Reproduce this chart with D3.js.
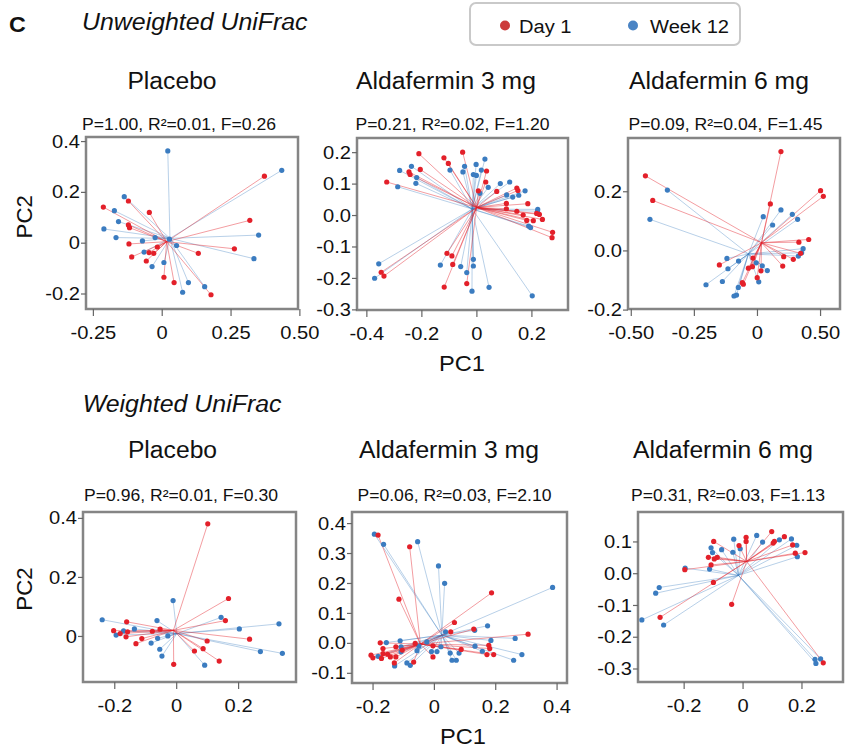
<!DOCTYPE html>
<html>
<head>
<meta charset="utf-8">
<script src="https://cdn.jsdelivr.net/npm/d3@7"></script>
<style>
  body { margin: 0; background: #fff; }
  text { font-family: "Liberation Sans", Arial, sans-serif; fill: #111; }
</style>
</head>
<body>
<div id="chart"></div>
<script>
// PCoA (PC1, PC2) per sample
var groups = ["Placebo", "Aldafermin 3 mg", "Aldafermin 6 mg"];
var metrics = ["Unweighted UniFrac", "Weighted UniFrac"];
var timepoints = ["Day 1", "Week 12"];

// PERMANOVA stats, row = metric, col = group
var statP = [[1.00, 0.21, 0.09], [0.96, 0.06, 0.31]];
var statR2 = [[0.01, 0.02, 0.04], [0.01, 0.03, 0.03]];
var statF = [[0.26, 1.20, 1.45], [0.30, 2.10, 1.13]];

var uwPlaceboDay1 = [[0.373,0.262],[0.320,0.088],[0.264,-0.024],[0.133,-0.042],[0.179,-0.205],[0.045,-0.157],[0.008,-0.136],[-0.212,0.140],[-0.121,0.164],[-0.045,0.119],[-0.121,0.070],[-0.117,0.059],[-0.119,-0.005],[-0.109,-0.056],[-0.046,-0.039],[-0.029,-0.042],[-0.016,-0.017],[-0.056,-0.072]];
var uwPlaceboWeek12 = [[0.436,0.285],[0.022,0.361],[-0.136,0.181],[-0.172,0.126],[-0.157,0.083],[-0.210,0.054],[-0.166,0.020],[-0.070,0.007],[-0.024,0.020],[0.028,0.014],[0.054,-0.011],[0.352,0.030],[0.335,-0.063],[-0.064,-0.037],[-0.035,-0.094],[0.008,-0.078],[0.097,-0.157],[0.076,-0.195],[0.156,-0.173]];
var uwPlaceboCentroid = [[0.018,0.004],[0.030,0.017]]; // [Day 1, Week 12]

var uw3mgDay1 = [[-0.209,0.195],[-0.118,0.182],[-0.102,0.164],[-0.050,0.200],[-0.204,0.145],[-0.245,0.137],[-0.241,0.129],[-0.326,0.105],[0.037,0.140],[0.034,0.105],[0.007,0.077],[0.074,0.075],[0.147,0.086],[0.151,0.078],[0.187,0.036],[0.109,0.037],[0.109,0.020],[0.147,0.012],[0.170,0.000],[0.183,-0.017],[0.207,-0.018],[0.219,0.005],[0.229,0.002],[0.240,-0.014],[0.277,-0.055],[0.275,-0.072],[-0.107,-0.122],[-0.089,-0.130],[-0.086,-0.157],[-0.346,-0.182],[-0.336,-0.194],[-0.117,-0.229],[-0.035,-0.218]];
var uw3mgWeek12 = [[-0.279,0.142],[-0.236,0.155],[-0.217,0.119],[-0.220,0.101],[-0.286,0.090],[-0.096,0.143],[-0.043,0.155],[-0.049,0.137],[-0.001,0.161],[0.031,0.178],[0.018,0.143],[-0.011,0.129],[0.000,0.126],[0.013,0.069],[0.043,0.088],[0.087,0.100],[0.121,0.105],[0.110,0.064],[0.132,0.057],[0.154,0.063],[0.177,0.077],[0.223,0.018],[0.222,0.012],[0.190,-0.035],[0.197,-0.040],[-0.355,-0.155],[-0.370,-0.201],[-0.131,-0.159],[-0.057,-0.164],[-0.035,-0.183],[-0.011,-0.141],[-0.011,-0.162],[-0.016,-0.242],[0.046,-0.230],[0.203,-0.257]];
var uw3mgCentroid = [[0.001,0.024],[-0.015,0.019]];

var uw6mgDay1 = [[0.095,0.334],[-0.442,0.252],[-0.413,0.169],[0.252,0.202],[0.263,0.183],[0.053,0.157],[0.166,0.028],[0.205,0.037],[0.173,-0.010],[0.106,-0.021],[0.144,-0.030],[0.102,-0.053],[-0.016,-0.026],[-0.018,-0.055],[-0.034,-0.060],[0.016,-0.069],[0.001,-0.092],[-0.058,-0.109],[-0.054,-0.114],[-0.149,-0.049]];
var uw6mgWeek12 = [[-0.355,0.204],[-0.424,0.105],[0.025,0.114],[0.062,0.086],[0.095,0.137],[0.140,0.122],[0.161,0.105],[0.183,0.006],[0.177,-0.008],[0.164,-0.019],[-0.119,-0.027],[-0.115,-0.062],[-0.073,-0.036],[-0.003,-0.042],[0.021,-0.052],[0.041,-0.068],[0.007,-0.106],[-0.137,-0.105],[-0.202,-0.116],[-0.074,-0.125],[-0.081,-0.151],[-0.091,-0.154]];
var uw6mgCentroid = [[0.018,0.026],[-0.034,-0.012]];

var wPlaceboDay1 = [[0.102,0.380],[0.169,0.127],[0.159,0.052],[0.237,-0.011],[0.100,-0.017],[0.087,-0.043],[0.059,-0.051],[0.139,-0.085],[-0.008,-0.096],[-0.052,0.023],[-0.077,0.016],[-0.111,-0.009],[-0.130,-0.026],[-0.160,0.048],[-0.157,0.014],[-0.162,-0.003],[-0.181,0.008],[-0.202,0.018]];
var wPlaceboWeek12 = [[-0.239,0.055],[-0.194,0.003],[-0.170,0.017],[-0.135,0.024],[-0.062,0.052],[-0.060,-0.008],[-0.081,-0.024],[-0.053,-0.045],[-0.046,-0.068],[-0.027,0.000],[-0.010,0.120],[0.145,0.063],[0.204,0.024],[0.332,0.041],[0.272,-0.053],[0.343,-0.059],[0.092,-0.099]];
var wPlaceboCentroid = [[-0.009,0.019],[0.002,0.008]];

var w3mgDay1 = [[-0.182,0.360],[-0.079,0.321],[-0.114,0.146],[0.188,0.167],[0.067,0.068],[0.130,0.046],[0.055,0.037],[0.307,0.029],[0.179,-0.008],[0.182,-0.019],[0.173,-0.039],[0.195,-0.039],[0.089,-0.022],[-0.003,-0.010],[-0.003,-0.047],[-0.066,-0.064],[-0.061,-0.002],[-0.124,-0.013],[-0.124,-0.047],[-0.129,-0.067],[-0.175,0.000],[-0.166,-0.019],[-0.166,-0.036],[-0.151,-0.038],[-0.142,-0.047],[-0.205,-0.041],[-0.199,-0.050],[-0.171,-0.052],[-0.103,-0.024]];
var w3mgWeek12 = [[-0.194,0.363],[-0.164,0.329],[-0.053,0.338],[0.015,0.257],[0.035,0.199],[0.387,0.185],[0.175,0.057],[0.133,0.042],[0.038,0.037],[0.265,0.015],[0.186,0.008],[0.134,-0.011],[0.158,-0.028],[0.287,-0.039],[0.260,-0.058],[0.059,-0.058],[0.073,-0.058],[0.082,-0.034],[0.053,-0.034],[0.023,-0.013],[0.010,-0.029],[-0.008,-0.029],[-0.023,0.003],[-0.049,-0.011],[-0.055,-0.026],[-0.088,-0.067],[-0.077,-0.075],[-0.110,0.007],[-0.107,-0.013],[-0.107,-0.030],[-0.128,-0.077],[-0.155,0.001],[-0.182,-0.045]];
var w3mgCentroid = [[-0.044,-0.004],[0.026,0.026]];

var w6mgDay1 = [[0.099,0.131],[0.142,0.115],[0.108,0.100],[0.104,0.095],[0.170,0.089],[0.012,0.113],[0.012,0.100],[-0.012,0.087],[-0.098,0.100],[-0.116,0.050],[-0.096,0.045],[-0.086,0.050],[-0.107,0.026],[-0.196,0.011],[-0.099,-0.029],[0.212,0.065],[0.179,0.063],[-0.037,-0.098],[-0.280,-0.139],[0.274,-0.282]];
var w6mgWeek12 = [[0.048,0.119],[-0.030,0.107],[0.068,0.098],[0.125,0.105],[0.166,0.108],[0.184,0.088],[0.186,0.052],[-0.107,0.080],[-0.102,0.065],[-0.071,0.074],[-0.033,0.066],[-0.008,0.077],[-0.195,0.016],[-0.112,0.013],[-0.283,-0.045],[-0.295,-0.063],[-0.342,-0.147],[-0.268,-0.163],[0.246,-0.271],[0.265,-0.270],[0.249,-0.284]];
var w6mgCentroid = [[0.014,0.037],[-0.014,-0.007]];

// tick values and the labels printed on them (the 6 mg unweighted axis prints "0.50" at its 4th tick)
var xTicks = [[-0.25,0,0.25,0.5],[-0.4,-0.2,0,0.2],[-0.5,-0.25,0,0.25],[-0.2,0,0.2],[-0.2,0,0.2,0.4],[-0.2,0,0.2]];
var xTickLabels = [["-0.25","0","0.25","0.50"],["-0.4","-0.2","0","0.2"],["-0.50","-0.25","0","0.50"],["-0.2","0","0.2"],["-0.2","0","0.2","0.4"],["-0.2","0","0.2"]];
var yTicks = [[-0.2,0,0.2,0.4],[-0.3,-0.2,-0.1,0,0.1,0.2],[-0.2,0,0.2],[0,0.2,0.4],[-0.1,0,0.1,0.2,0.3,0.4],[-0.3,-0.2,-0.1,0,0.1]];
var yTickLabels = [["-0.2","0","0.2","0.4"],["-0.3","-0.2","-0.1","0.0","0.1","0.2"],["-0.2","0.0","0.2"],["0","0.2","0.4"],["-0.1","0.0","0.1","0.2","0.3","0.4"],["-0.3","-0.2","-0.1","0.0","0.1"]];

var width = 849, height = 748;
var SX = 1.06; // lettering in the figure is a little wider than Arial
var red = "#e3202a", blue = "#3b7cc0";

// panel frames [x0, x1, y0, y1] and axis domains
var panels = [
  {m: 0, g: 0, day1: uwPlaceboDay1, wk12: uwPlaceboWeek12, cen: uwPlaceboCentroid, box: [86, 298, 137, 309], xd: [-0.275, 0.495], yd: [-0.261, 0.416]},
  {m: 0, g: 1, day1: uw3mgDay1, wk12: uw3mgWeek12, cen: uw3mgCentroid, box: [357, 568, 138, 310], xd: [-0.434, 0.333], yd: [-0.302, 0.245]},
  {m: 0, g: 2, day1: uw6mgDay1, wk12: uw6mgWeek12, cen: uw6mgCentroid, box: [628, 840, 138, 309], xd: [-0.511, 0.329], yd: [-0.198, 0.380]},
  {m: 1, g: 0, day1: wPlaceboDay1, wk12: wPlaceboWeek12, cen: wPlaceboCentroid, box: [83, 296, 512, 682], xd: [-0.301, 0.387], yd: [-0.156, 0.420]},
  {m: 1, g: 1, day1: w3mgDay1, wk12: w3mgWeek12, cen: w3mgCentroid, box: [352, 567, 512, 683], xd: [-0.267, 0.434], yd: [-0.134, 0.437]},
  {m: 1, g: 2, day1: w6mgDay1, wk12: w6mgWeek12, cen: w6mgCentroid, box: [638, 843, 512, 682], xd: [-0.355, 0.341], yd: [-0.3425, 0.1927]}
];
var titleX = [[172, 446, 719], [172.5, 449, 723]], titleY = [89.3, 458.3];
var statX = [[179, 452.5, 725.5], [181, 454.5, 728]], statY = [130, 500.7];

var svg = d3.select("#chart").append("svg")
    .attr("width", width)
    .attr("height", height);

panels.forEach(function(p, i) {
  var x = d3.scaleLinear().domain(p.xd).range([p.box[0], p.box[1]]);
  var y = d3.scaleLinear().domain(p.yd).range([p.box[3], p.box[2]]);
  var g = svg.append("g");

  g.append("rect")
    .attr("x", p.box[0]).attr("y", p.box[2])
    .attr("width", p.box[1] - p.box[0]).attr("height", p.box[3] - p.box[2])
    .attr("fill", "#fff").attr("stroke", "#858585").attr("stroke-width", 2.5);

  var xa = g.append("g")
    .attr("transform", "translate(0," + p.box[3] + ")")
    .call(d3.axisBottom(x).tickValues(xTicks[i])
      .tickFormat(function(d, j) { return xTickLabels[i][j]; })
      .tickSize(7).tickPadding(9.5));
  var ya = g.append("g")
    .attr("transform", "translate(" + p.box[0] + ",0)")
    .call(d3.axisLeft(y).tickValues(yTicks[i])
      .tickFormat(function(d, j) { return yTickLabels[i][j]; })
      .tickSize(5).tickPadding(1));
  [xa, ya].forEach(function(a) {
    a.select(".domain").remove();
    a.selectAll(".tick line").attr("stroke", "#666").attr("stroke-width", 1.2);
    a.selectAll(".tick text").attr("font-size", 19).attr("font-family", null).style("fill", "#111");
  });

  // spider lines to the group centroid
  var sets = [{pts: p.wk12, c: p.cen[1], col: blue, op: 0.36}, {pts: p.day1, c: p.cen[0], col: red, op: 0.44}];
  sets.forEach(function(s) {
    g.selectAll(null).data(s.pts).enter().append("line")
      .attr("x1", x(s.c[0])).attr("y1", y(s.c[1]))
      .attr("x2", function(d) { return x(d[0]); })
      .attr("y2", function(d) { return y(d[1]); })
      .attr("stroke", s.col).attr("stroke-opacity", s.op).attr("stroke-width", 1);
  });
  sets.forEach(function(s) {
    g.selectAll(null).data(s.pts).enter().append("circle")
      .attr("cx", function(d) { return x(d[0]); })
      .attr("cy", function(d) { return y(d[1]); })
      .attr("r", 2.6).attr("fill", s.col);
  });

  svg.append("text")
    .attr("x", titleX[p.m][p.g]).attr("y", titleY[p.m])
    .attr("text-anchor", "middle").attr("font-size", 23.3)
    .text(groups[p.g]);
  svg.append("text")
    .attr("x", statX[p.m][p.g]).attr("y", statY[p.m])
    .attr("text-anchor", "middle").attr("font-size", 16.6)
    .text("P=" + statP[p.m][p.g].toFixed(2) + ", R\u00b2=" + statR2[p.m][p.g].toFixed(2) + ", F=" + statF[p.m][p.g].toFixed(2));
});

// axis titles
[216.7, 589].forEach(function(cy) {
  svg.append("text")
    .attr("transform", "translate(31.5," + cy + ") rotate(-90)")
    .attr("text-anchor", "middle").attr("font-size", 22.3)
    .text("PC2");
});
[[462, 370.7], [463, 744]].forEach(function(pos) {
  svg.append("text")
    .attr("x", pos[0]).attr("y", pos[1])
    .attr("text-anchor", "middle").attr("font-size", 22.3)
    .text("PC1");
});

// panel letter and metric headings
svg.append("text").attr("x", 9).attr("y", 32).attr("font-size", 22).attr("font-weight", "bold").text("C");
svg.append("text").attr("x", 82).attr("y", 30).attr("font-size", 23.5).attr("font-style", "italic").text(metrics[0]);
svg.append("text").attr("x", 82.7).attr("y", 412).attr("font-size", 23.5).attr("font-style", "italic").text(metrics[1]);

// legend
var lg = svg.append("g");
lg.append("rect").attr("x", 470).attr("y", 3).attr("width", 270).attr("height", 42).attr("rx", 6)
  .attr("fill", "#fff").attr("stroke", "#c9c9c9").attr("stroke-width", 2);
var legendCols = ["#cc3b3b", "#4a84c4"], legendX = [505, 633];
timepoints.forEach(function(t, i) {
  lg.append("circle").attr("cx", legendX[i]).attr("cy", 25.5).attr("r", 5).attr("fill", legendCols[i]);
  lg.append("text").attr("x", legendX[i] + (i ? 17 : 14)).attr("y", 33).attr("font-size", 19).text(t);
});

// widen the lettering a touch, keeping each anchor in place
svg.selectAll("text").filter(function() { return !this.getAttribute("transform"); })
  .attr("transform", function() {
    var x0 = +this.getAttribute("x") || 0;
    return "translate(" + (x0 * (1 - SX)) + ",0) scale(" + SX + ",1)";
  });
</script>
</body>
</html>
